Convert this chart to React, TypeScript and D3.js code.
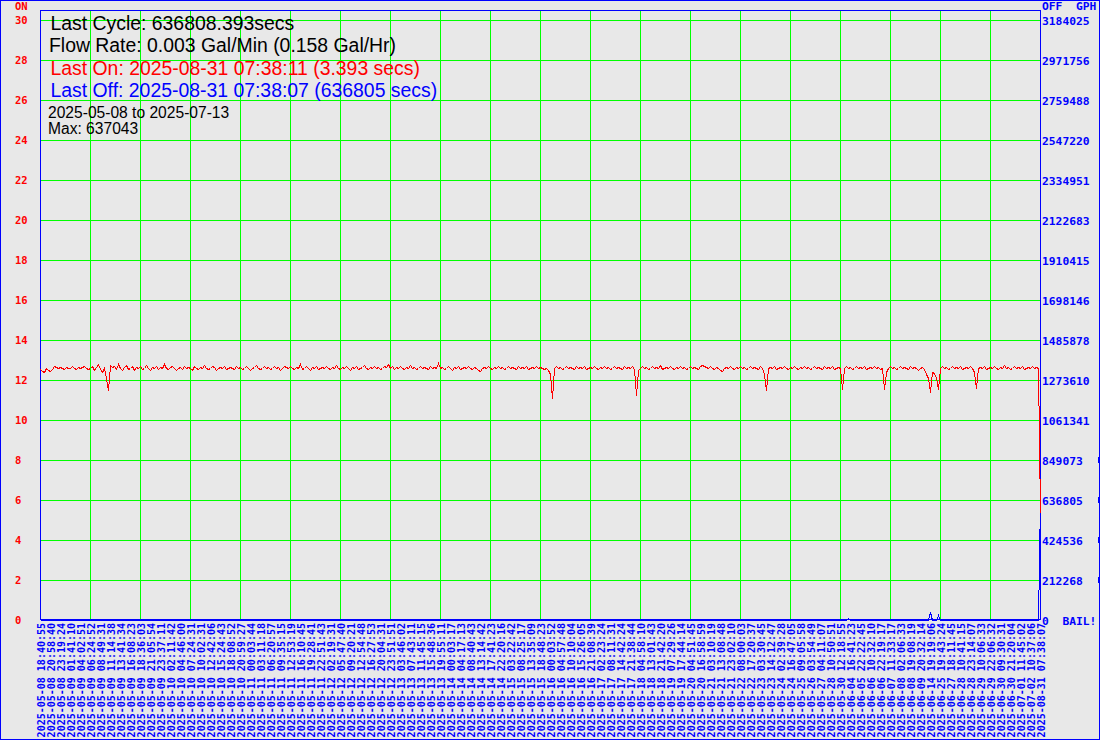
import React from "react";
import * as d3 from "d3";

// ON seconds (red series), one value per sample
const onValues: number[] = [
  12.55, 12.45, 12.4, 12.6, 12.5, 12.45, 12.55, 12.7, 12.65, 12.6, 12.65, 12.6, 12.55, 12.65, 12.6, 12.6, 12.7, 12.6, 12.55, 12.65, 12.6, 12.65, 12.7, 12.6, 12.55,
  12.6, 12.7, 12.5, 12.65, 12.8, 12.55, 12.4, 12.6, 12.1, 11.5, 12.75, 12.65, 12.7, 12.55, 12.8, 12.6, 12.5, 12.65, 12.75, 12.55, 12.6, 12.7, 12.5, 12.65, 12.6,
  12.7, 12.55, 12.6, 12.75, 12.6, 12.5, 12.65, 12.6, 12.7, 12.55, 12.65, 12.6, 12.8, 12.6, 12.55, 12.65, 12.7, 12.6, 12.5, 12.6, 12.65, 12.55, 12.7, 12.6, 12.65,
  12.6, 12.5, 12.7, 12.6, 12.55, 12.65, 12.6, 12.75, 12.6, 12.55, 12.6, 12.7, 12.65, 12.5, 12.6, 12.65, 12.6, 12.7, 12.55, 12.6, 12.65, 12.6, 12.55, 12.7, 12.6,
  12.65, 12.55, 12.6, 12.7, 12.6, 12.5, 12.6, 12.65, 12.75, 12.6, 12.55, 12.6, 12.7, 12.6, 12.65, 12.55, 12.6, 12.7, 12.6, 12.65, 12.5, 12.6, 12.7, 12.65, 12.6,
  12.7, 12.6, 12.55, 12.65, 12.6, 12.8, 12.55, 12.6, 12.7, 12.6, 12.5, 12.65, 12.6, 12.7, 12.55, 12.6, 12.65, 12.6, 12.7, 12.6, 12.55, 12.65, 12.6, 12.75, 12.6,
  12.55, 12.65, 12.6, 12.7, 12.6, 12.5, 12.65, 12.6, 12.7, 12.55, 12.6, 12.65, 12.75, 12.6, 12.55, 12.65, 12.6, 12.7, 12.6, 12.65, 12.55, 12.6, 12.7, 12.65, 12.8,
  12.6, 12.7, 12.55, 12.65, 12.6, 12.7, 12.6, 12.55, 12.65, 12.6, 12.75, 12.6, 12.65, 12.55, 12.6, 12.7, 12.6, 12.65, 12.6, 12.55, 12.7, 12.6, 12.65, 12.6, 12.85,
  12.6, 12.65, 12.55, 12.6, 12.7, 12.6, 12.5, 12.65, 12.6, 12.7, 12.55, 12.6, 12.65, 12.6, 12.7, 12.6, 12.55, 12.65, 12.6, 12.5, 12.45, 12.6, 12.65, 12.6, 12.7,
  12.6, 12.55, 12.65, 12.6, 12.7, 12.6, 12.65, 12.55, 12.6, 12.7, 12.6, 12.65, 12.6, 12.55, 12.7, 12.6, 12.65, 12.6, 12.7, 12.55, 12.6, 12.65, 12.6, 12.7, 12.6,
  12.65, 12.6, 12.55, 12.6, 12.5, 12.3, 11.1, 12.6, 12.7, 12.6, 12.65, 12.55, 12.6, 12.7, 12.6, 12.65, 12.6, 12.55, 12.7, 12.6, 12.65, 12.6, 12.7, 12.55, 12.6,
  12.65, 12.6, 12.7, 12.6, 12.55, 12.65, 12.6, 12.7, 12.6, 12.65, 12.55, 12.6, 12.7, 12.6, 12.65, 12.6, 12.55, 12.7, 12.6, 12.65, 12.6, 12.7, 12.55, 11.25, 12.5,
  12.6, 12.7, 12.6, 12.65, 12.55, 12.6, 12.7, 12.6, 12.65, 12.6, 12.75, 12.55, 12.6, 12.65, 12.6, 12.7, 12.6, 12.55, 12.65, 12.6, 12.7, 12.6, 12.65, 12.55, 12.6,
  12.7, 12.6, 12.65, 12.6, 12.55, 12.7, 12.75, 12.7, 12.65, 12.6, 12.7, 12.6, 12.55, 12.65, 12.6, 12.5, 12.45, 12.6, 12.65, 12.6, 12.7, 12.6, 12.55, 12.65, 12.6,
  12.7, 12.6, 12.65, 12.55, 12.6, 12.7, 12.6, 12.65, 12.6, 12.55, 12.7, 12.6, 12.3, 11.5, 12.6, 12.65, 12.6, 12.7, 12.55, 12.6, 12.65, 12.6, 12.7, 12.6, 12.55,
  12.65, 12.6, 12.7, 12.6, 12.55, 12.65, 12.6, 12.7, 12.6, 12.65, 12.55, 12.6, 12.7, 12.6, 12.65, 12.6, 12.55, 12.7, 12.6, 12.65, 12.6, 12.7, 12.55, 12.6, 12.65,
  12.6, 11.55, 12.6, 12.7, 12.6, 12.65, 12.55, 12.6, 12.7, 12.6, 12.65, 12.6, 12.7, 12.55, 12.6, 12.65, 12.6, 12.7, 12.6, 12.65, 12.55, 12.6, 11.55, 12.4, 12.6,
  12.7, 12.6, 12.65, 12.55, 12.6, 12.7, 12.6, 12.65, 12.6, 12.55, 12.7, 12.6, 12.65, 12.6, 12.5, 12.6, 12.65, 12.55, 12.3, 12.1, 11.4, 12.4, 12.35, 12.1, 11.55,
  12.6, 12.7, 12.6, 12.65, 12.55, 12.6, 12.7, 12.6, 12.65, 12.6, 12.7, 12.55, 12.6, 12.65, 12.6, 12.7, 12.6, 12.4, 11.6, 12.6, 12.65, 12.6, 12.7, 12.55, 12.6,
  12.65, 12.6, 12.7, 12.6, 12.55, 12.65, 12.6, 12.75, 12.6, 12.65, 12.55, 12.6, 12.7, 12.6, 12.65, 12.6, 12.7, 12.55, 12.6, 12.65, 12.6, 12.7, 12.6, 12.65, 12.6,
  5.35,
];

// OFF series (blue) vertices: [sample index, value]
const offPoints: [number, number][] = [
  [0, 0], [403, 0], [404, 0.1], [405, 0], [444, 0], [445, 0.4], [446, 0], [448, 0], [449, 0.25], [450, 0], [499, 0], [500, 6.0],
];

const leftTicks: number[] = [30, 28, 26, 24, 22, 20, 18, 16, 14, 12, 10, 8, 6, 4, 2, 0];
const rightTickLabels: string[] = [
  "3184025", "2971756", "2759488", "2547220", "2334951", "2122683", "1910415", "1698146",
  "1485878", "1273610", "1061341", "849073", "636805", "424536", "212268", "0  BAIL!",
];
const rightMarkTicks: number[] = [8, 6, 4, 2];

const xLabels: string[] = [
  "2025-05-08 18:40:55", "2025-05-08 20:58:40", "2025-05-08 23:19:24", "2025-05-09 01:41:10", "2025-05-09 04:02:51",
  "2025-05-09 06:24:52", "2025-05-09 08:49:31", "2025-05-09 11:14:38", "2025-05-09 13:41:34", "2025-05-09 16:08:23",
  "2025-05-09 18:36:03", "2025-05-09 21:05:54", "2025-05-09 23:37:11", "2025-05-10 02:11:42", "2025-05-10 04:46:00",
  "2025-05-10 07:24:31", "2025-05-10 10:02:31", "2025-05-10 12:42:06", "2025-05-10 15:24:43", "2025-05-10 18:08:52",
  "2025-05-10 20:59:27", "2025-05-11 00:03:44", "2025-05-11 03:11:18", "2025-05-11 06:20:57", "2025-05-11 09:35:15",
  "2025-05-11 12:53:19", "2025-05-11 16:10:45", "2025-05-11 19:28:41", "2025-05-11 22:51:43", "2025-05-12 02:19:31",
  "2025-05-12 05:47:40", "2025-05-12 09:20:21", "2025-05-12 12:54:48", "2025-05-12 16:27:53", "2025-05-12 20:04:31",
  "2025-05-12 23:51:51", "2025-05-13 03:46:02", "2025-05-13 07:43:11", "2025-05-13 11:45:15", "2025-05-13 15:48:36",
  "2025-05-13 19:55:11", "2025-05-14 00:03:17", "2025-05-14 04:17:13", "2025-05-14 08:40:43", "2025-05-14 13:14:42",
  "2025-05-14 17:41:23", "2025-05-14 22:20:16", "2025-05-15 03:22:42", "2025-05-15 08:25:17", "2025-05-15 13:35:09",
  "2025-05-15 18:48:23", "2025-05-16 00:03:52", "2025-05-16 04:57:48", "2025-05-16 10:10:04", "2025-05-16 15:26:05",
  "2025-05-16 21:08:39", "2025-05-17 02:23:24", "2025-05-17 08:11:31", "2025-05-17 14:42:24", "2025-05-17 21:38:44",
  "2025-05-18 04:58:10", "2025-05-18 13:01:43", "2025-05-18 21:42:20", "2025-05-19 07:29:26", "2025-05-19 17:44:14",
  "2025-05-20 04:51:45", "2025-05-20 16:58:59", "2025-05-21 03:10:19", "2025-05-21 13:08:48", "2025-05-21 23:02:10",
  "2025-05-22 08:00:03", "2025-05-22 17:20:37", "2025-05-23 03:30:45", "2025-05-23 14:12:47", "2025-05-24 02:39:28",
  "2025-05-24 16:47:05", "2025-05-25 09:05:58", "2025-05-26 03:54:49", "2025-05-27 04:11:07", "2025-05-28 10:50:51",
  "2025-05-30 12:18:55", "2025-06-04 16:41:23", "2025-06-05 22:22:45", "2025-06-06 10:32:10", "2025-06-06 22:19:17",
  "2025-06-07 11:33:17", "2025-06-08 02:06:33", "2025-06-08 19:08:19", "2025-06-09 20:32:14", "2025-06-14 19:19:06",
  "2025-06-25 19:43:24", "2025-06-27 18:11:45", "2025-06-28 10:41:15", "2025-06-28 23:14:07", "2025-06-29 10:06:33",
  "2025-06-29 22:06:32", "2025-06-30 09:30:31", "2025-06-30 21:20:04", "2025-07-01 11:45:02", "2025-07-02 10:37:06",
  "2025-08-31 07:38:07",
];

const infoLines = {
  cycle: "Last Cycle: 636808.393secs",
  flow: "Flow Rate: 0.003 Gal/Min (0.158 Gal/Hr)",
  lastOn: "Last On: 2025-08-31 07:38:11 (3.393 secs)",
  lastOff: "Last Off: 2025-08-31 07:38:07 (636805 secs)",
  range: "2025-05-08 to 2025-07-13",
  max: "Max: 637043",
};

const BG = "#e8e8e8";
const BLUE = "#0000ff";
const RED = "#ff0000";
const GREEN = "#00ff00";
const MONO = "'DejaVu Sans Mono', monospace";
const SANS = "'Liberation Sans', Arial, sans-serif";

export default function App() {
  const W = 1100;
  const H = 740;
  const left = 40;
  const right = 1040;
  const top = 10;
  const bottom = 620;

  const y = d3.scaleLinear().domain([0, 30]).range([bottom + 0.5, 20.5]);
  const xs = d3.scaleLinear().domain([0, onValues.length - 1]).range([left + 0.5, right + 0.5]);
  const xl = d3.scaleLinear().domain([0, xLabels.length - 1]).range([left, right]);

  const onLine = d3.line<number>().x((_, i) => xs(i)).y((d) => y(d));
  const offLine = d3.line<[number, number]>().x((d) => xs(d[0])).y((d) => y(d[1]));

  const vGrid = d3.range(5, xLabels.length - 1, 5);
  const hGrid = leftTicks.filter((t) => t > 0);

  return (
    <svg
      width={W}
      height={H}
      viewBox={`0 0 ${W} ${H}`}
      style={{ position: "absolute", left: 0, top: 0, display: "block" }}
    >
      <rect x={0} y={0} width={W} height={H} fill={BG} />
      <rect x={0.5} y={0.5} width={W - 1} height={H - 1} fill="none" stroke={BLUE} strokeWidth={1} shapeRendering="crispEdges" />

      {/* grid */}
      <g stroke={GREEN} strokeWidth={1} shapeRendering="crispEdges">
        {hGrid.map((t) => (
          <line key={"h" + t} x1={left} x2={right} y1={y(t)} y2={y(t)} />
        ))}
        {vGrid.map((i) => (
          <line key={"v" + i} x1={xl(i) + 0.5} x2={xl(i) + 0.5} y1={top} y2={bottom} />
        ))}
      </g>

      {/* plot frame */}
      <rect
        x={left + 0.5}
        y={top + 0.5}
        width={right - left}
        height={bottom - top - 1}
        fill="none"
        stroke={BLUE}
        strokeWidth={1}
        shapeRendering="crispEdges"
      />

      {/* series */}
      <path d={offLine(offPoints) || ""} fill="none" stroke={BLUE} strokeWidth={1} shapeRendering="crispEdges" />
      <path d={onLine(onValues) || ""} fill="none" stroke={RED} strokeWidth={1} shapeRendering="crispEdges" />

      {/* left axis */}
      <g fontFamily={MONO} fontWeight="bold" fontSize={10.5} fill={RED}>
        <text x={15} y={10}>ON</text>
        {leftTicks.map((t) => (
          <text key={"l" + t} x={15} y={y(t) + 3.5}>
            {t}
          </text>
        ))}
      </g>

      {/* right axis */}
      <g fontFamily={MONO} fontWeight="bold" fontSize={11.3} fill={BLUE}>
        <text x={1042} y={10} style={{ whiteSpace: "pre" }}>{"OFF  GPH"}</text>
        {rightTickLabels.map((lab, i) => (
          <text key={"r" + i} x={1042} y={y(leftTicks[i]) + 4} style={{ whiteSpace: "pre" }}>
            {lab}
          </text>
        ))}
        {rightMarkTicks.map((t) => (
          <rect key={"m" + t} x={1098} y={y(t) - 3.5} width={2} height={6} />
        ))}
      </g>

      {/* x labels */}
      <g fontFamily={MONO} fontWeight="bold" fontSize={10} fill={BLUE}>
        {xLabels.map((lab, i) => (
          <text
            key={"x" + i}
            transform={`translate(${xl(i) + 5},623) rotate(-90)`}
            textAnchor="end"
          >
            {lab}
          </text>
        ))}
      </g>

      {/* info text */}
      <g fontFamily={SANS}>
        <text x={50.5} y={30} fontSize={19.4} fill="#000">{infoLines.cycle}</text>
        <text x={49} y={52} fontSize={19.4} fill="#000">{infoLines.flow}</text>
        <text x={50.5} y={74.5} fontSize={19.4} fill={RED}>{infoLines.lastOn}</text>
        <text x={50.5} y={97} fontSize={19.4} fill={BLUE}>{infoLines.lastOff}</text>
        <text x={48} y={118} fontSize={15.6} fill="#000">{infoLines.range}</text>
        <text x={48} y={133.5} fontSize={15.6} fill="#000">{infoLines.max}</text>
      </g>
    </svg>
  );
}
